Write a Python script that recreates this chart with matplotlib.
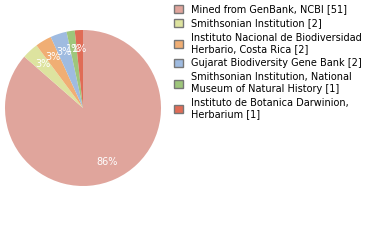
import matplotlib
matplotlib.use('Agg')
import numpy as np
import matplotlib.pyplot as plt
from matplotlib.patches import Patch

# institutions and record counts
labels = ['Mined from GenBank, NCBI [51]',
          'Smithsonian Institution [2]',
          'Instituto Nacional de Biodiversidad\nHerbario, Costa Rica [2]',
          'Gujarat Biodiversity Gene Bank [2]',
          'Smithsonian Institution, National\nMuseum of Natural History [1]',
          'Instituto de Botanica Darwinion,\nHerbarium [1]']
counts = [51, 2, 2, 2, 1, 1]
colors = ['#e0a59c', '#dde39f', '#f0ae74', '#9fbbe0', '#9ec67b', '#e06c56']

fig = plt.figure(figsize=(3.8, 2.4), dpi=100)
ax = fig.add_axes([5/380, 54/240, 156/380, 156/240])

wedges = ax.pie(counts, colors=colors, startangle=90, counterclock=False,
                wedgeprops={'linewidth': 0})[0]
total = sum(counts)
# percentage labels, truncated like the original
for w, c in zip(wedges, counts):
    ang = np.deg2rad((w.theta1 + w.theta2) / 2)
    r = 0.76
    ax.text(r * np.cos(ang), r * np.sin(ang), '%d%%' % int(100 * c / total),
            color='white', ha='center', va='center', fontsize=7)
ax.set_aspect('equal')
ax.set_xlim(-1, 1)
ax.set_ylim(-1, 1)

handles = [Patch(facecolor=c, edgecolor='#777777', linewidth=1) for c in colors]
fig.legend(handles, labels, loc='upper left', bbox_to_anchor=(170/380, 1.0),
           frameon=False, fontsize=7, handlelength=0.9, handleheight=0.9,
           handletextpad=0.8, labelspacing=0.42, borderaxespad=0.05)

fig.savefig('out.png', dpi=100)
